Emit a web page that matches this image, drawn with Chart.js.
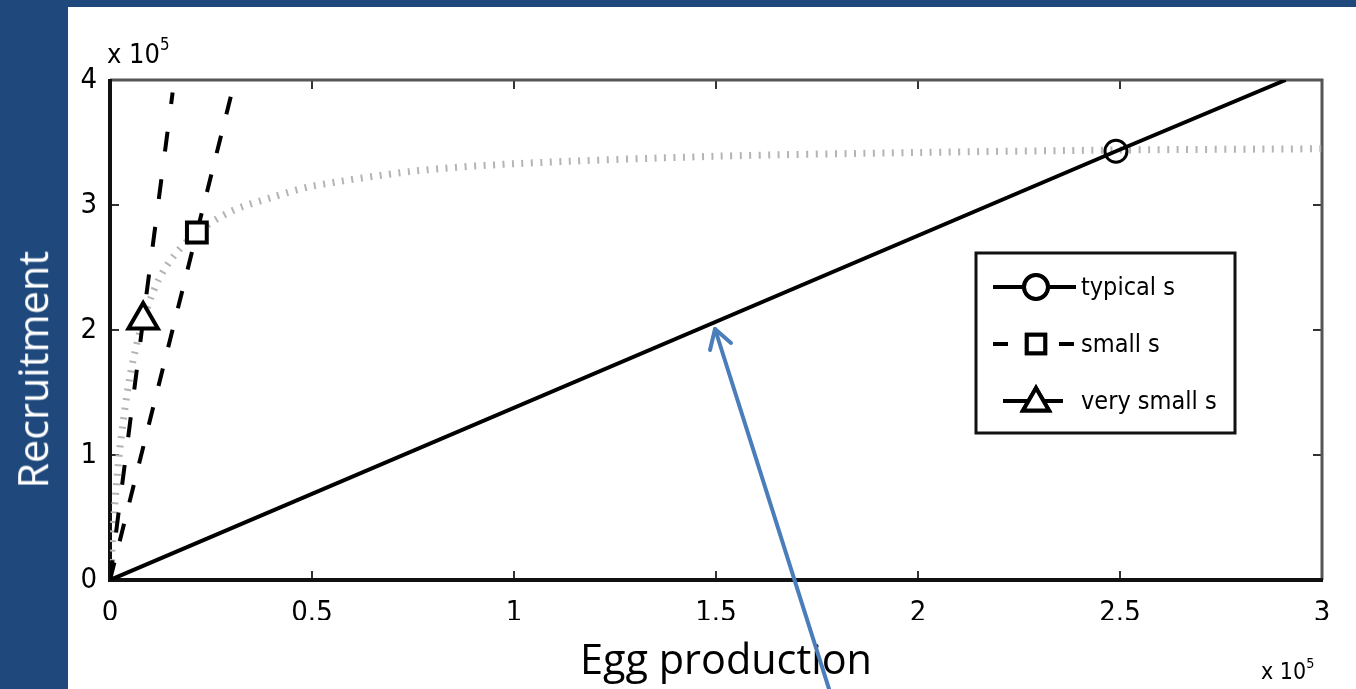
<!DOCTYPE html>
<html>
<head>
<meta charset="utf-8">
<script src="https://cdn.jsdelivr.net/npm/chart.js@4.4.1/dist/chart.umd.min.js"></script>
<style>
  html, body { margin: 0; padding: 0; background: #1f497d; overflow: hidden; }
  #wrap { position: relative; width: 1356px; height: 689px; }
  canvas { display: block; }
  .note { position: absolute; white-space: nowrap; line-height: 1; }
  #ylab { color: #fff; font-family: "Open Sans", "Noto Sans", sans-serif; }
  #xlab { color: #000; font-family: "Open Sans", "Noto Sans", sans-serif; }
  .exp { font-family: "Liberation Sans Narrow", "DejaVu Sans Condensed", "Liberation Sans", sans-serif; color: #000; }
  .exp sup { font-size: 62%; vertical-align: 0.75em; }
  svg { position: absolute; left: 0; top: 0; }
</style>
</head>
<body>
<div id="wrap">
  <canvas id="srChart" width="1356" height="689"></canvas>
  <div class="note" id="ylab">Recruitment</div>
  <div class="note" id="xlab">Egg production</div>
  <div class="note exp" id="expTop" style="left:107px; top:36px; font-size:27px;">x 10<sup>5</sup></div>
  <div class="note exp" id="expBottom" style="left:1261px; top:656px; font-size:23px;">x 10<sup>5</sup></div>
  <svg width="1356" height="689">
    <g stroke="#4a7ebb" stroke-width="4" fill="none" stroke-linecap="round" stroke-linejoin="round">
      <line x1="830" y1="692" x2="715" y2="329" />
      <polyline points="710,350 715,329 731,343" />
    </g>
  </svg>
</div>
<script>
// axes (values in units of 10^5)
const xTickValues = [0, 0.5, 1, 1.5, 2, 2.5, 3];
const xTickLabels = ["0", "0.5", "1", "1.5", "2", "2.5", "3"];
const yTickValues = [0, 1, 2, 3, 4];
const yTickLabels = ["0", "1", "2", "3", "4"];

// stock-recruitment curve (grey dotted)
const srEggs = [0, 0.012, 0.025, 0.05, 0.082, 0.12, 0.16, 0.215, 0.3, 0.4, 0.5, 0.75, 1, 1.5, 2, 2.5, 3];
const srRecruits = [0, 0.6, 1.07, 1.64, 2.08, 2.4, 2.6, 2.78, 2.95, 3.06, 3.15, 3.27, 3.33, 3.39, 3.42, 3.44, 3.45];

// replacement lines
const seriesLabels = ["typical s", "small s", "very small s"];
const typicalEggs = [0, 2.49, 2.91];
const typicalRecruits = [0, 3.43, 4.0];
const smallEggs = [0, 0.215, 0.3];
const smallRecruits = [0, 2.78, 3.88];
const verySmallEggs = [0, 0.082, 0.155];
const verySmallRecruits = [0, 2.08, 3.9];

const tickFont = '"Liberation Sans Narrow", "DejaVu Sans Condensed", "Liberation Sans", sans-serif';

function pts(xs, ys) {
  return xs.map((x, i) => ({ x: x, y: ys[i] }));
}

function fitWidth(el, target) {
  el.style.fontSize = "40px";
  const w = el.offsetWidth;
  el.style.fontSize = (40 * target / w) + "px";
}

const ylab = document.getElementById("ylab");
fitWidth(ylab, 238);
ylab.style.left = (33 - ylab.offsetWidth / 2) + "px";
ylab.style.top = (369 - ylab.offsetHeight / 2) + "px";
ylab.style.transform = "rotate(-90deg)";

const xlab = document.getElementById("xlab");
fitWidth(xlab, 292);
xlab.style.left = "580px";
xlab.style.top = (658 - xlab.offsetHeight / 2) + "px";

const pageBackground = {
  id: "pageBackground",
  beforeDraw(chart) {
    const ctx = chart.ctx;
    ctx.save();
    ctx.fillStyle = "#1f497d";
    ctx.fillRect(0, 0, chart.width, chart.height);
    ctx.fillStyle = "#ffffff";
    ctx.fillRect(68, 7, chart.width - 68, chart.height - 7);
    ctx.restore();
  }
};

// matlab style box with inward ticks
const boxAxes = {
  id: "boxAxes",
  beforeDatasetsDraw(chart) {
    const ctx = chart.ctx;
    const a = chart.chartArea;
    const xs = chart.scales.x;
    const ys = chart.scales.y;
    ctx.save();
    ctx.strokeStyle = "#333";
    ctx.lineWidth = 2;
    xTickValues.forEach((v) => {
      const px = xs.getPixelForValue(v);
      ctx.beginPath();
      ctx.moveTo(px, a.bottom); ctx.lineTo(px, a.bottom - 9);
      ctx.moveTo(px, a.top); ctx.lineTo(px, a.top + 9);
      ctx.stroke();
    });
    yTickValues.forEach((v) => {
      const py = ys.getPixelForValue(v);
      ctx.beginPath();
      ctx.moveTo(a.left, py); ctx.lineTo(a.left + 9, py);
      ctx.moveTo(a.right, py); ctx.lineTo(a.right - 9, py);
      ctx.stroke();
    });
    ctx.lineWidth = 3;
    ctx.strokeStyle = "#555";
    ctx.beginPath();
    ctx.moveTo(a.left, a.top); ctx.lineTo(a.right, a.top); ctx.lineTo(a.right, a.bottom);
    ctx.stroke();
    ctx.lineWidth = 4;
    ctx.strokeStyle = "#111";
    ctx.beginPath();
    ctx.moveTo(a.left, a.top - 1); ctx.lineTo(a.left, a.bottom); ctx.lineTo(a.right + 1, a.bottom);
    ctx.stroke();
    ctx.restore();
  }
};

// legend box drawn inside the plot like matlab does
const boxLegend = {
  id: "boxLegend",
  afterDraw(chart) {
    const ctx = chart.ctx;
    ctx.save();
    ctx.fillStyle = "#fff";
    ctx.fillRect(976, 253, 259, 180);
    ctx.strokeStyle = "#111";
    ctx.lineWidth = 3;
    ctx.strokeRect(976, 253, 259, 180);
    const rows = [287, 344, 401];
    for (let i = 0; i < 3; i++) {
      const ds = chart.data.datasets[i];
      const y = rows[i];
      ctx.strokeStyle = "#000";
      ctx.lineWidth = 4;
      ctx.setLineDash(ds.borderDash || []);
      if (i === 1) ctx.setLineDash([15, 18]);
      if (i === 2) ctx.setLineDash([]);
      ctx.beginPath();
      ctx.moveTo(i === 2 ? 1003 : 993, y);
      ctx.lineTo(i === 2 ? 1063 : 1076, y);
      ctx.stroke();
      ctx.setLineDash([]);
      Chart.helpers.drawPoint(ctx, {
        pointStyle: ds.pointStyle,
        radius: ds.legendRadius,
        borderWidth: ds.pointBorderWidth
      }, 1036, y + (i === 2 ? 2 : 0));
      ctx.fillStyle = ds.pointBackgroundColor;
      ctx.fill();
      ctx.strokeStyle = "#000";
      ctx.lineWidth = ds.pointBorderWidth;
      ctx.stroke();
      ctx.fillStyle = "#000";
      ctx.font = '25px ' + tickFont;
      ctx.textBaseline = "middle";
      ctx.fillText(ds.label, 1081, y + 1);
    }
    ctx.restore();
  }
};

new Chart(document.getElementById("srChart"), {
  type: "scatter",
  data: {
    datasets: [
      {
        label: seriesLabels[0],
        data: pts(typicalEggs, typicalRecruits),
        showLine: true,
        borderColor: "#000",
        borderWidth: 4,
        pointStyle: "circle",
        pointRadius: [0, 11, 0],
        legendRadius: 12,
        pointBorderWidth: 3,
        pointBorderColor: "#000",
        pointBackgroundColor: "rgba(0,0,0,0)",
        order: 1
      },
      {
        label: seriesLabels[1],
        data: pts(smallEggs, smallRecruits),
        showLine: true,
        borderColor: "#000",
        borderWidth: 4,
        borderDash: [18, 22],
        pointStyle: "rect",
        pointRadius: [0, 14, 0],
        legendRadius: 13,
        pointBorderWidth: 4,
        pointBorderColor: "#000",
        pointBackgroundColor: "#fff",
        order: 2
      },
      {
        label: seriesLabels[2],
        data: pts(verySmallEggs, verySmallRecruits),
        showLine: true,
        borderColor: "#000",
        borderWidth: 4,
        borderDash: [20, 28],
        pointStyle: "triangle",
        pointRadius: [0, 17, 0],
        legendRadius: 15,
        pointBorderWidth: 4,
        pointBorderColor: "#000",
        pointBackgroundColor: "#fff",
        order: 3
      },
      {
        label: "stock-recruitment",
        data: pts(srEggs, srRecruits),
        showLine: true,
        borderColor: "#b4b4b4",
        borderWidth: 7,
        borderDash: [2, 7.5],
        borderCapStyle: "butt",
        pointRadius: 0,
        tension: 0.3,
        order: 4
      }
    ]
  },
  options: {
    responsive: false,
    animation: false,
    events: [],
    layout: { padding: { left: 68, top: 80, right: 34, bottom: 69 } },
    scales: {
      x: {
        type: "linear",
        min: 0,
        max: 3,
        afterBuildTicks: (s) => { s.ticks = xTickValues.map((v) => ({ value: v })); },
        afterFit: (s) => { s.height = 40; },
        grid: { display: false, drawTicks: false },
        border: { display: false },
        ticks: {
          color: "#000",
          padding: 16,
          maxRotation: 0,
          font: { family: tickFont, size: 29 },
          callback: (v, i) => xTickLabels[i]
        }
      },
      y: {
        type: "linear",
        min: 0,
        max: 4,
        afterBuildTicks: (s) => { s.ticks = yTickValues.map((v) => ({ value: v })); },
        afterFit: (s) => { s.width = 42; },
        grid: { display: false, drawTicks: false },
        border: { display: false },
        ticks: {
          color: "#000",
          padding: 13,
          font: { family: tickFont, size: 29 },
          callback: (v, i) => yTickLabels[i]
        }
      }
    },
    plugins: {
      legend: { display: false },
      tooltip: { enabled: false }
    }
  },
  plugins: [pageBackground, boxAxes, boxLegend]
});
</script>
</body>
</html>
